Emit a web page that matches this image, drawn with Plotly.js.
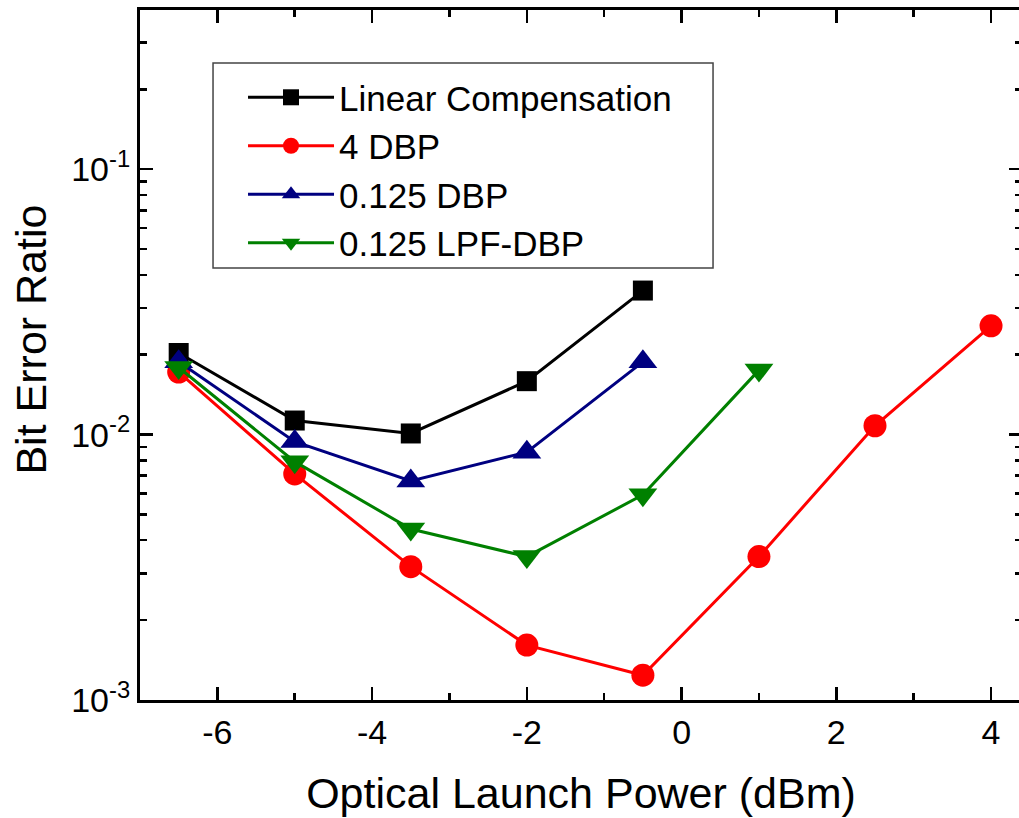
<!DOCTYPE html>
<html>
<head>
<meta charset="utf-8">
<script src="https://cdn.plot.ly/plotly-3.0.1.min.js"></script>
<style>
html, body { margin: 0; padding: 0; overflow: hidden; background: #fff; }
#chart { width: 1024px; height: 818px; }
</style>
</head>
<body>
<div id="chart"></div>
<script>
// Data
const powerLinear = [-6.5, -5, -3.5, -2, -0.5];
const berLinear   = [0.0203, 0.0113, 0.0101, 0.0159, 0.0349];

const power4DBP = [-6.5, -5, -3.5, -2, -0.5, 1, 2.5, 4];
const ber4DBP   = [0.0172, 0.00711, 0.00318, 0.00161, 0.00124, 0.00347, 0.0108, 0.0257];

const power0125DBP = [-6.5, -5, -3.5, -2, -0.5];
const ber0125DBP   = [0.0188, 0.00941, 0.00669, 0.00859, 0.0188];

const powerLPF = [-6.5, -5, -3.5, -2, -0.5, 1];
const berLPF   = [0.0179, 0.00791, 0.00441, 0.00347, 0.00593, 0.0175];

const seriesNames = ['Linear Compensation', '4 DBP', '0.125 DBP', '0.125 LPF-DBP'];

// Tick labels
const xTickVals  = [-6, -4, -2, 0, 2, 4];
const xTickText  = ['-6', '-4', '-2', '0', '2', '4'];
const xMinorVals = [-7, -5, -3, -1, 1, 3];
const yTickVals  = [0.001, 0.01, 0.1];
const yTickText  = ['10<sup>-3</sup>', '10<sup>-2</sup>', '10<sup>-1</sup>'];
const yMinorVals = [0.002, 0.003, 0.004, 0.005, 0.006, 0.007, 0.008, 0.009,
                    0.02, 0.03, 0.04, 0.05, 0.06, 0.07, 0.08, 0.09,
                    0.2, 0.3, 0.4];

const FONT = '"Liberation Sans", Arial, Helvetica, sans-serif';

function trace(x, y, name, color, symbol, size) {
  return {
    x: x, y: y, name: name, type: 'scatter', mode: 'lines+markers',
    line: { color: color, width: 3 },
    marker: { color: color, symbol: symbol, size: size, line: { width: 0 } }
  };
}

const data = [
  trace(powerLinear, berLinear, seriesNames[0], '#000000', 'square', 20),
  trace(power4DBP, ber4DBP, seriesNames[1], '#ff0000', 'circle', 23),
  trace(power0125DBP, ber0125DBP, seriesNames[2], '#000080', 'triangle-up', 25),
  trace(powerLPF, berLPF, seriesNames[3], '#008000', 'triangle-down', 25)
];

const layout = {
  width: 1024, height: 818,
  margin: { l: 140, r: 2, t: 10, b: 118, pad: 0 },
  paper_bgcolor: '#ffffff', plot_bgcolor: '#ffffff',
  font: { family: FONT, color: '#000000', size: 34 },
  showlegend: true,
  legend: {
    x: 0.1168, y: 0.9159, xanchor: 'left', yanchor: 'top',
    borderwidth: 0, bgcolor: 'rgba(0,0,0,0)',
    font: { family: FONT, size: 35, color: '#000000' },
    itemwidth: 86, itemsizing: 'trace', tracegroupgap: 0
  },
  shapes: [{
    type: 'rect', xref: 'paper', yref: 'paper',
    x0: 0.0828, x1: 0.6497, y0: 0.6261, y1: 0.9232,
    line: { color: '#444444', width: 1.5 }, fillcolor: 'rgba(0,0,0,0)', layer: 'above'
  }],
  annotations: [{
    text: 'Bit Error Ratio', xref: 'paper', yref: 'paper',
    x: -0.1241, y: 0.5217, xanchor: 'center', yanchor: 'middle',
    textangle: -90, showarrow: false,
    font: { family: FONT, size: 43, color: '#000000' }
  }],
  xaxis: {
    type: 'linear', range: [-7, 4.4],
    tickmode: 'array', tickvals: xTickVals, ticktext: xTickText,
    ticks: 'inside', ticklen: 13, tickwidth: 2.5, tickcolor: '#000',
    showline: true, linewidth: 3, linecolor: '#000', mirror: 'ticks',
    showgrid: false, zeroline: false,
    tickfont: { family: FONT, size: 34 },
    minor: { tickmode: 'array', tickvals: xMinorVals, ticks: 'inside', ticklen: 7, tickwidth: 2.5, tickcolor: '#000', showgrid: false },
    title: { text: 'Optical Launch Power (dBm)', font: { family: FONT, size: 43 }, standoff: 29 }
  },
  yaxis: {
    type: 'log', range: [-3, -0.4],
    tickmode: 'array', tickvals: yTickVals, ticktext: yTickText,
    ticks: 'inside', ticklen: 13, tickwidth: 2.5, tickcolor: '#000',
    showline: true, linewidth: 3, linecolor: '#000', mirror: 'ticks',
    showgrid: false, zeroline: false,
    tickfont: { family: FONT, size: 34 },
    minor: { tickmode: 'array', tickvals: yMinorVals, ticks: 'inside', ticklen: 7, tickwidth: 2.5, tickcolor: '#000', showgrid: false }
  }
};

Plotly.newPlot('chart', data, layout, { staticPlot: true, displayModeBar: false });
</script>
</body>
</html>
